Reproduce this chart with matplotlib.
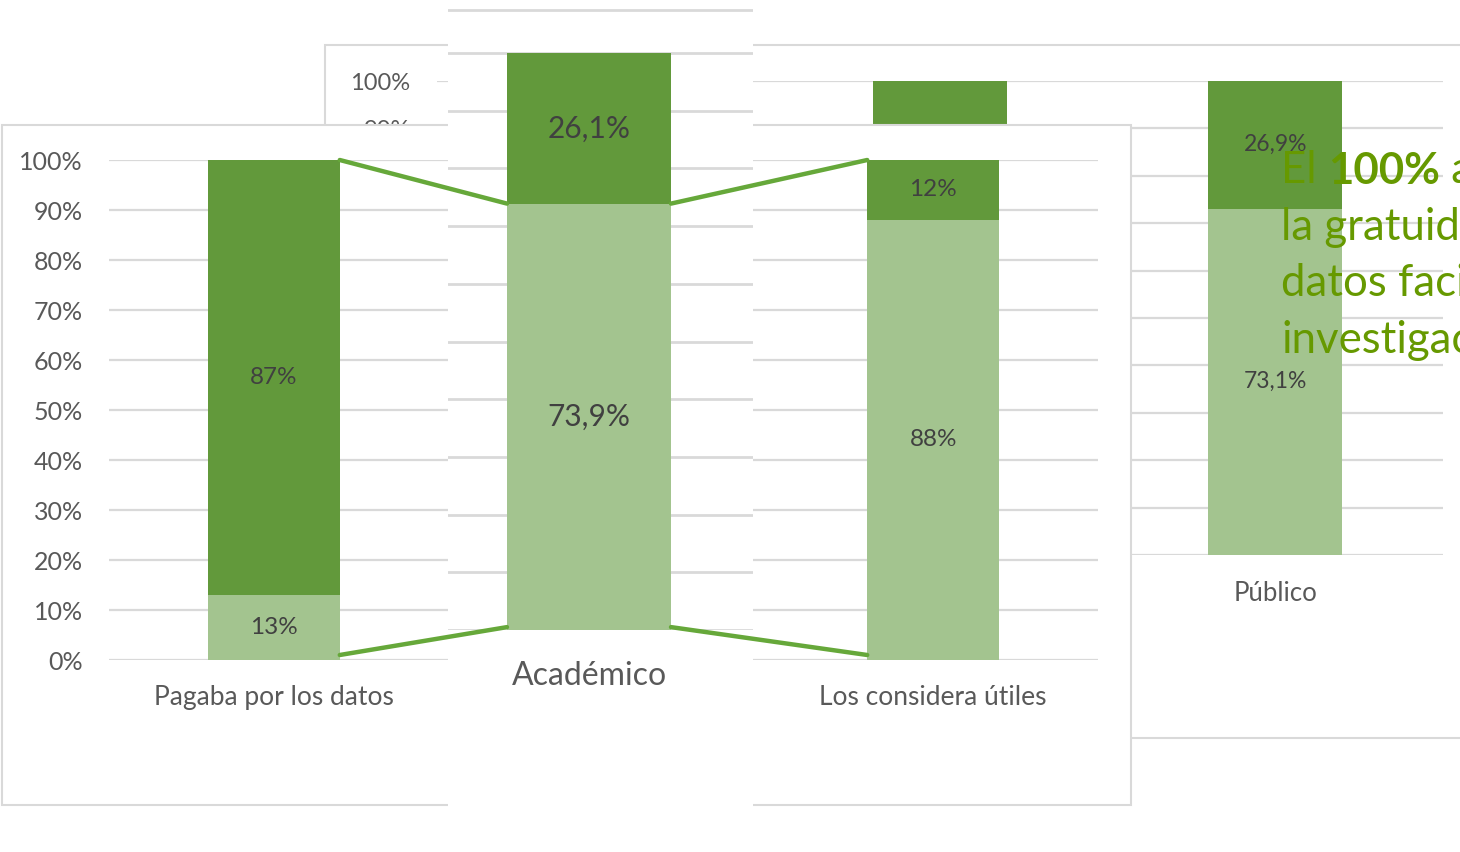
import numpy as np
import matplotlib.pyplot as plt
from matplotlib.patches import Rectangle, ConnectionPatch

plt.rcParams['font.family'] = ['Lato', 'DejaVu Sans']

# ---- data ----
# front chart: the middle slot is covered by the zoomed strip
front_cats = ['Pagaba por los datos', 'Los considera útiles']
front_light = [13, 88]
front_dark = [87, 12]
front_light_lbl = ['13%', '88%']
front_dark_lbl = ['87%', '12%']

# back chart, by sector (middle one is mostly hidden, estimated)
back_cats = ['Académico', 'Privado', 'Público']
back_light = [73.9, 75.0, 73.1]
back_dark = [26.1, 25.0, 26.9]
back_light_lbl = ['73,9%', '75%', '73,1%']
back_dark_lbl = ['26,1%', '25%', '26,9%']

# zoomed strip (Académico)
zoom_cats = ['Académico']
zoom_light = [73.9]
zoom_dark = [26.1]
zoom_light_lbl = ['73,9%']
zoom_dark_lbl = ['26,1%']

pct_ticks = np.arange(0, 101, 10)
pct_labels = [f'{t}%' for t in pct_ticks]

head_first = ['El ', '100%', ' apoya']
head_rest = ['la gratuidad de los', 'datos facilita la', 'investigación']

DARK = '#62993b'
LIGHT = '#a3c48f'
GRID = '#d9d9d9'
TXT = '#595959'
LBL = '#404040'
CONN = '#66a83a'
HEAD = '#669900'

W, H = 1460, 852
fig = plt.figure(figsize=(W / 100, H / 100), dpi=100)


def box(x0, y0, x1, y1):
    # pixel box (top-left origin) -> figure fraction
    return [x0 / W, 1 - y1 / H, (x1 - x0) / W, (y1 - y0) / H]


def panel(x0, y0, x1, y1, z, edge=GRID):
    b = box(x0, y0, x1, y1)
    r = Rectangle((b[0], b[1]), b[2], b[3], transform=fig.transFigure,
                  facecolor='white', edgecolor=edge, lw=1.5, zorder=z)
    fig.add_artist(r)


def style(ax, yfs, xfs, ypad, xpad, grid_lw=1.6):
    ax.set_facecolor('none')
    for s in ax.spines.values():
        s.set_visible(False)
    ax.set_yticks(pct_ticks)
    ax.set_yticklabels(pct_labels)
    ax.yaxis.grid(True, color=GRID, lw=grid_lw)
    ax.set_axisbelow(True)
    ax.tick_params(axis='y', length=0, labelsize=yfs, labelcolor=TXT, pad=ypad)
    ax.tick_params(axis='x', length=0, labelsize=xfs, labelcolor=TXT, pad=xpad)


def stacked(ax, x, light, dark, llbl, dlbl, width, fs):
    b1 = ax.bar(x, light, width, color=LIGHT)
    b2 = ax.bar(x, dark, width, bottom=light, color=DARK)
    ax.bar_label(b1, labels=llbl, label_type='center', fontsize=fs, color=LBL)
    ax.bar_label(b2, labels=dlbl, label_type='center', fontsize=fs, color=LBL)


# ---- back chart ----
panel(325, 45, 1475, 738, 1)
ax_b = fig.add_axes(box(437, 81, 1443, 555))
ax_b.set_zorder(2)
xb = np.arange(len(back_cats))
stacked(ax_b, xb, back_light, back_dark, back_light_lbl, back_dark_lbl, 0.4, 16.5)
ax_b.set_xlim(-0.5, 2.5)
ax_b.set_ylim(0, 100)
ax_b.set_xticks(xb)
ax_b.set_xticklabels(back_cats)
style(ax_b, 17, 18.5, 19, 19)

# ---- front chart ----
panel(2, 125, 1131, 805, 3)
ax_a = fig.add_axes(box(109, 160, 1098, 660))
ax_a.set_zorder(4)
xa = np.array([0, 2])
stacked(ax_a, xa, front_light, front_dark, front_light_lbl, front_dark_lbl, 0.4, 17.5)
ax_a.set_xlim(-0.5, 2.5)
ax_a.set_ylim(0, 100)
ax_a.set_xticks(xa)
ax_a.set_xticklabels(front_cats)
style(ax_a, 18, 19, 19, 18)

# ---- zoomed strip over the middle ----
panel(448, -5, 753, 860, 5, edge='none')
ax_s = fig.add_axes(box(448, 0, 753, 630))
ax_s.set_zorder(6)
zw = 164 / 305
stacked(ax_s, [0], zoom_light, zoom_dark, zoom_light_lbl, zoom_dark_lbl, zw, 21.5)
ax_s.set_xlim(-141 / 305, 164 / 305)
ax_s.set_ylim(0, 630 / 5.77)
ax_s.set_xticks([0])
ax_s.set_xticklabels(zoom_cats)
style(ax_s, 21.5, 23, 0, 22, grid_lw=2)
ax_s.set_yticklabels([])
ax_s.axhline(107.4, color=GRID, lw=2, zorder=0)

# ---- zoom connector lines ----
hw = 0.2
conns = [((xa[0] + hw, front_light[0] + front_dark[0]), (-zw / 2, zoom_light[0])),
         ((xa[0] + hw, 1), (-zw / 2, 0.5)),
         ((xa[1] - hw, front_light[1] + front_dark[1]), (zw / 2, zoom_light[0])),
         ((xa[1] - hw, 1), (zw / 2, 0.5))]
for pa, ps in conns:
    c = ConnectionPatch(xyA=pa, coordsA=ax_a.transData, xyB=ps, coordsB=ax_s.transData,
                        color=CONN, lw=3.2, zorder=7)
    fig.add_artist(c)

# ---- headline text, clipped by the right edge ----
hx, hy0, dy, hfs = 1281, 183, 56.5, 31.5
t = fig.text(hx / W, 1 - hy0 / H, head_first[0], fontsize=hfs, color=HEAD,
             va='baseline', zorder=8)
t = fig.add_artist(plt.Annotation(head_first[1], xy=(1, 0), xycoords=t, fontsize=hfs,
                                  color=HEAD, weight='bold', va='bottom', zorder=8))
fig.add_artist(plt.Annotation(head_first[2], xy=(1, 0), xycoords=t, fontsize=hfs,
                              color=HEAD, va='bottom', zorder=8))
for i, line in enumerate(head_rest):
    fig.text(hx / W, 1 - (hy0 + dy * (i + 1)) / H, line, fontsize=hfs, color=HEAD,
             va='baseline', zorder=8)

fig.savefig('out.png', dpi=100)
